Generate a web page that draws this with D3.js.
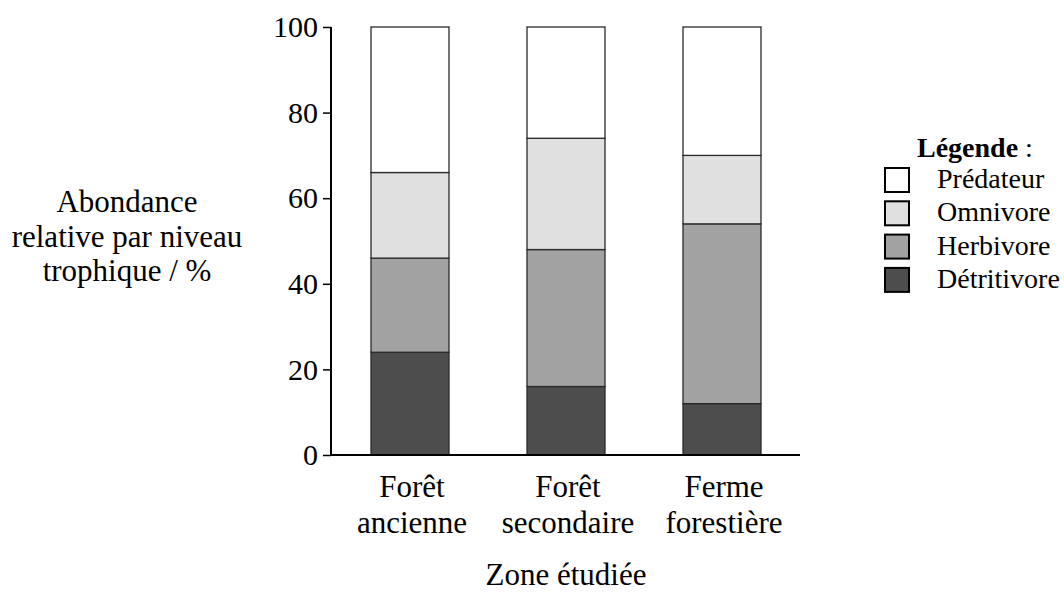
<!DOCTYPE html>
<html>
<head>
<meta charset="utf-8">
<script src="https://cdn.jsdelivr.net/npm/d3@7"></script>
<style>
  html, body { margin: 0; padding: 0; background: #fff; }
  svg { display: block; font-family: "Liberation Serif", "Times New Roman", serif; }
</style>
</head>
<body>
<svg id="chart" width="1064" height="594"></svg>
<script>
// ---- data ----
const categories = ["Forêt ancienne", "Forêt secondaire", "Ferme forestière"];
const categoryLines = [["Forêt", "ancienne"], ["Forêt", "secondaire"], ["Ferme", "forestière"]];
const seriesNames = ["Détritivore", "Herbivore", "Omnivore", "Prédateur"];
const detritivore = [24, 16, 12];
const herbivore = [22, 32, 42];
const omnivore = [20, 26, 16];
const predateur = [34, 26, 30];
const yTicks = [0, 20, 40, 60, 80, 100];
const legendOrder = ["Prédateur", "Omnivore", "Herbivore", "Détritivore"];
const yLabelLines = ["Abondance", "relative par niveau", "trophique / %"];
const xTitle = "Zone étudiée";

const colors = {
  "Détritivore": "#4d4d4d",
  "Herbivore": "#a2a2a2",
  "Omnivore": "#e0e0e0",
  "Prédateur": "#ffffff"
};

const seriesValues = {
  "Détritivore": detritivore,
  "Herbivore": herbivore,
  "Omnivore": omnivore,
  "Prédateur": predateur
};

const rows = categories.map((c, i) => {
  const r = { cat: c };
  seriesNames.forEach(s => r[s] = seriesValues[s][i]);
  return r;
});
const stacked = d3.stack().keys(seriesNames)(rows);

const FS = 31;
const LFS = 28;
const svg = d3.select("#chart");

const x = d3.scaleBand().domain(categories).range([332, 800]).paddingInner(0.5).paddingOuter(0.25);
const y = d3.scaleLinear().domain([0, 100]).range([455, 27]);

// bars
svg.append("g").selectAll("g")
  .data(stacked)
  .join("g")
  .attr("fill", d => colors[d.key])
  .selectAll("rect")
  .data(d => d)
  .join("rect")
  .attr("x", d => x(d.data.cat))
  .attr("width", x.bandwidth())
  .attr("y", d => y(d[1]))
  .attr("height", d => y(d[0]) - y(d[1]))
  .attr("stroke", "#2a2a2a")
  .attr("stroke-width", 1.3);

// y axis
const yAxis = svg.append("g")
  .attr("transform", "translate(331,0)")
  .call(d3.axisLeft(y).tickValues(yTicks).tickSize(8).tickPadding(5).tickFormat(d3.format("d")));
yAxis.select(".domain").attr("stroke", "#000").attr("stroke-width", 2).attr("d", `M0,${y(100)}V${y(0) + 1}`);
yAxis.selectAll(".tick line").attr("stroke", "#000").attr("stroke-width", 1.5);
yAxis.selectAll(".tick text")
  .attr("font-family", "Liberation Serif, serif")
  .attr("font-size", 30)
  .attr("fill", "#000");

// x axis line
svg.append("line")
  .attr("x1", 330).attr("x2", 800)
  .attr("y1", y(0)).attr("y2", y(0))
  .attr("stroke", "#000").attr("stroke-width", 2);

// category labels
const catG = svg.append("g");
categories.forEach((c, i) => {
  const cx = x(c) + x.bandwidth() / 2 + 2;
  const t = catG.append("text")
    .attr("x", cx)
    .attr("y", 497)
    .attr("text-anchor", "middle")
    .attr("font-size", FS)
    .attr("fill", "#000");
  categoryLines[i].forEach((line, j) => {
    t.append("tspan").attr("x", cx).attr("dy", j === 0 ? 0 : 36).text(line);
  });
});

// x title
svg.append("text")
  .attr("x", x(categories[1]) + x.bandwidth() / 2)
  .attr("y", 585)
  .attr("text-anchor", "middle")
  .attr("font-size", FS)
  .attr("fill", "#000")
  .text(xTitle);

// y title
const yt = svg.append("text")
  .attr("x", 127)
  .attr("y", 212)
  .attr("text-anchor", "middle")
  .attr("font-size", FS)
  .attr("fill", "#000");
yLabelLines.forEach((l, j) => {
  yt.append("tspan").attr("x", 127).attr("dy", j === 0 ? 0 : 34.5).text(l);
});

// legend
const lg = svg.append("g");
const lt = lg.append("text").attr("x", 917).attr("y", 157).attr("font-size", LFS).attr("fill", "#000");
lt.append("tspan").attr("font-weight", "bold").text("Légende");
lt.append("tspan").text(" :");

legendOrder.forEach((name, i) => {
  const yy = 167 + i * 33.3;
  lg.append("rect")
    .attr("x", 885).attr("y", yy + 1)
    .attr("width", 24).attr("height", 24)
    .attr("fill", colors[name])
    .attr("stroke", "#000").attr("stroke-width", 2);
  lg.append("text")
    .attr("x", 937).attr("y", yy + 21)
    .attr("font-size", LFS).attr("fill", "#000")
    .text(name);
});
</script>
</body>
</html>
